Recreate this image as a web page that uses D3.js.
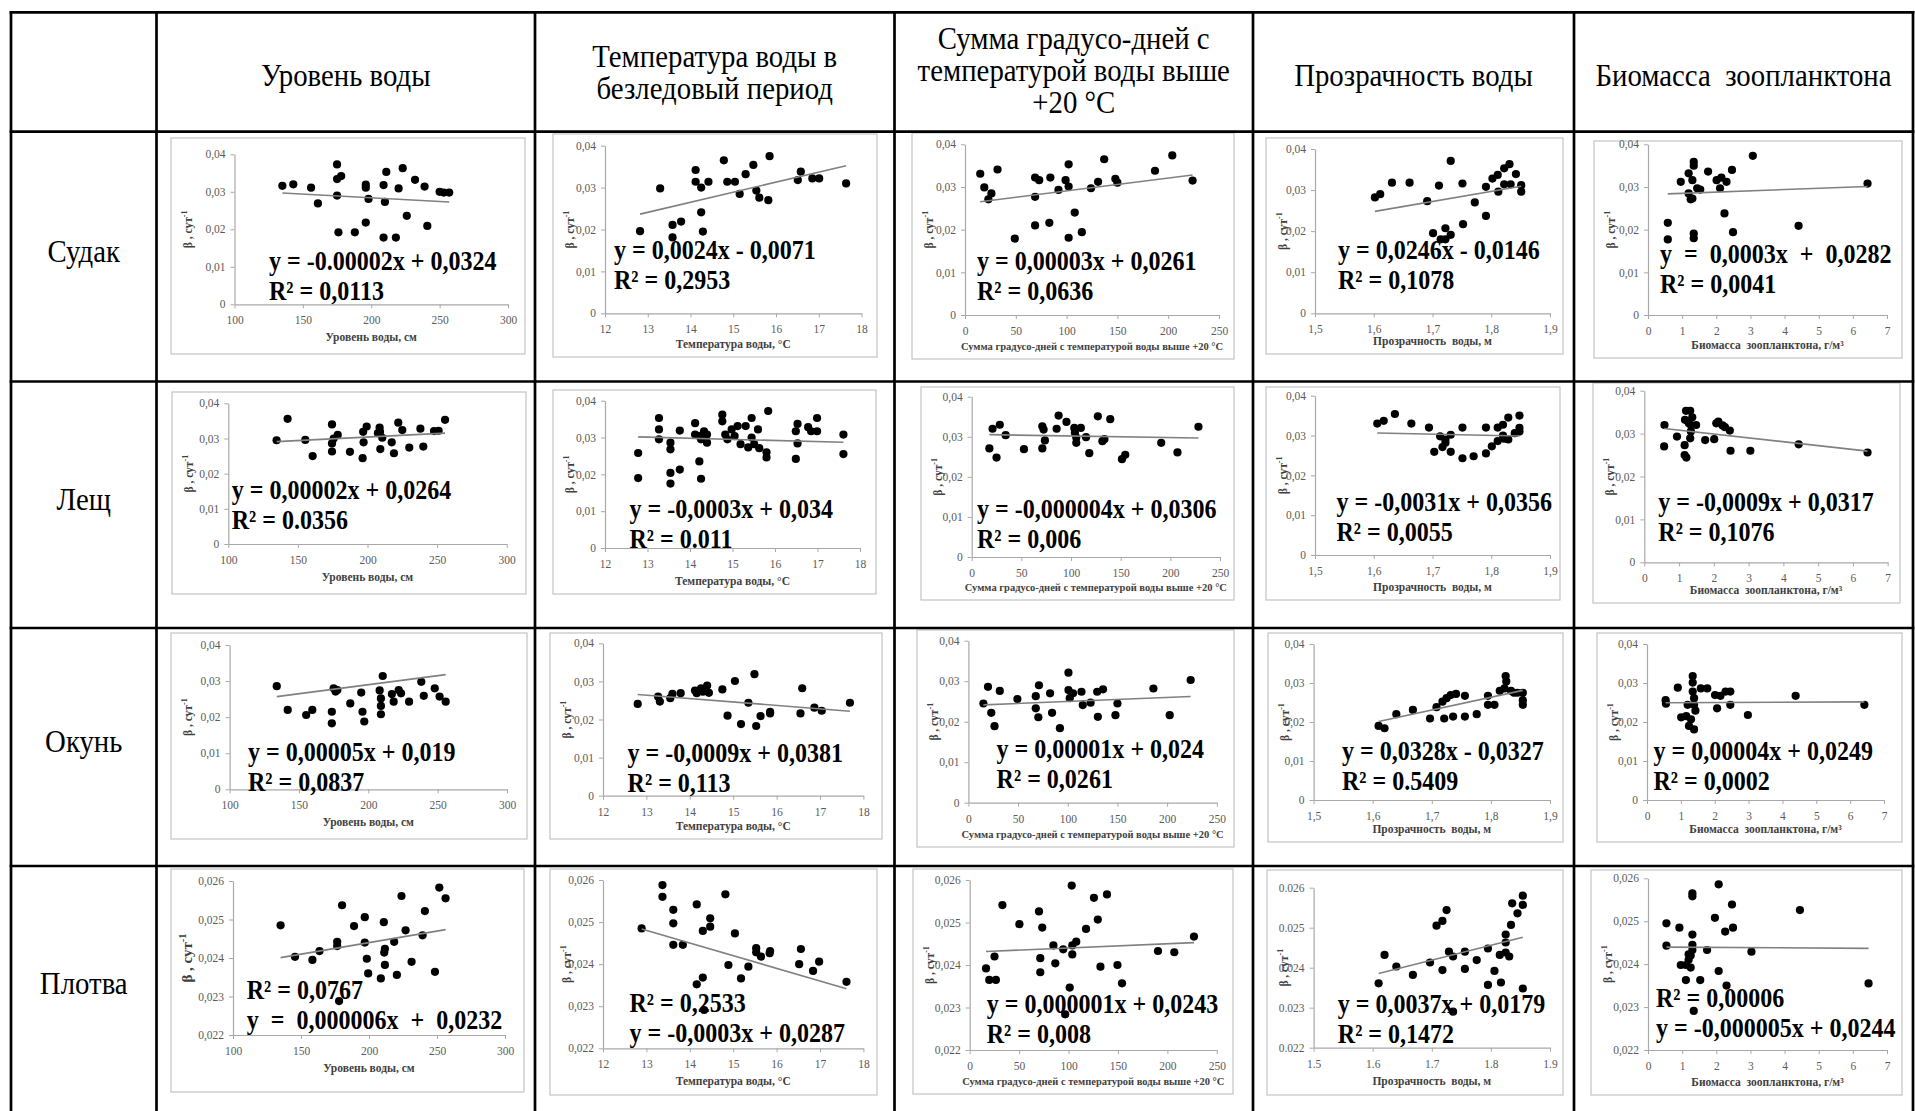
<!DOCTYPE html>
<html>
<head>
<meta charset="utf-8">
<script src="https://cdn.jsdelivr.net/npm/d3@7"></script>
<style>
  html, body { margin: 0; padding: 0; background: #fff; }
  svg { display: block; }
</style>
</head>
<body>
<svg id="chart" width="1915" height="1111"></svg>
<script>
// ---- Table categories ----
const species = ["Судак", "Лещ", "Окунь", "Плотва"];
const factorHeaders = [
  ["Уровень воды"],
  ["Температура воды в", "безледовый период"],
  ["Сумма градусо-дней с", "температурой воды выше", "+20 °C"],
  ["Прозрачность воды"],
  ["Биомасса  зоопланктона"]
];
const xAxisTitles = [
  "Уровень воды, см",
  "Температура воды, °C",
  "Сумма градусо-дней с температурой воды выше +20 °C",
  "Прозрачность  воды, м",
  "Биомасса  зоопланктона, г/м³"
];
const yAxisTitle = "β , сут";
const yAxisTitleSup = "-1";

// ---- Axis ticks ----
const xTickValues = [
  [100, 150, 200, 250, 300],
  [12, 13, 14, 15, 16, 17, 18],
  [0, 50, 100, 150, 200, 250],
  [1.5, 1.6, 1.7, 1.8, 1.9],
  [0, 1, 2, 3, 4, 5, 6, 7]
];
const yTicksMain = [0, 0.01, 0.02, 0.03, 0.04];
const yTicksRoach = [0.022, 0.023, 0.024, 0.025, 0.026];

// ---- Regression labels (display order) ----
const sudakLabels = [
  ["y = -0.00002x + 0,0324", "R² = 0,0113"],
  ["y = 0,0024x - 0,0071", "R² = 0,2953"],
  ["y = 0,00003x + 0,0261", "R² = 0,0636"],
  ["y = 0,0246x - 0,0146", "R² = 0,1078"],
  ["y  =  0,0003x  +  0,0282", "R² = 0,0041"]
];
const breamLabels = [
  ["y = 0,00002x + 0,0264", "R² = 0.0356"],
  ["y = -0,0003x + 0,034", "R² = 0.011"],
  ["y = -0,000004x + 0,0306", "R² = 0,006"],
  ["y = -0,0031x + 0,0356", "R² = 0,0055"],
  ["y = -0,0009x + 0,0317", "R² = 0,1076"]
];
const perchLabels = [
  ["y = 0,00005x + 0,019", "R² = 0,0837"],
  ["y = -0,0009x + 0,0381", "R² = 0,113"],
  ["y = 0,00001x + 0,024", "R² = 0,0261"],
  ["y = 0,0328x - 0,0327", "R² = 0.5409"],
  ["y = 0,00004x + 0,0249", "R² = 0,0002"]
];
const roachLabels = [
  ["R² = 0,0767", "y  =  0,000006x  +  0,0232"],
  ["R² = 0,2533", "y = -0,0003x + 0,0287"],
  ["y = 0,000001x + 0,0243", "R² = 0,008"],
  ["y = 0,0037x + 0,0179", "R² = 0,1472"],
  ["R² = 0,00006", "y = -0,000005x + 0,0244"]
];

// ---- Observations: [factor value, β] ----
const sudakLevel = [[135,0.0316],[143,0.0320],[156,0.0311],[161,0.0269],[175,0.0373],[175,0.0334],[178,0.0342],[175,0.0290],[176,0.0192],[188,0.0192],[196,0.0218],[196,0.0311],[196,0.0319],[198,0.0281],[209,0.0318],[211,0.0353],[210,0.0273],[209,0.0178],[218,0.0178],[220,0.0309],[223,0.0363],[226,0.0236],[232,0.0332],[239,0.0314],[241,0.0209],[250,0.0300],[253,0.0298],[257,0.0298]];
const sudakTemp = [[12.82,0.0196],[13.29,0.0298],[13.58,0.0211],[13.58,0.0181],[13.78,0.0219],[14.12,0.0342],[14.12,0.0314],[14.25,0.0300],[14.25,0.0241],[14.29,0.0195],[14.42,0.0314],[14.78,0.0365],[14.86,0.0314],[15.04,0.0314],[15.15,0.0285],[15.29,0.0332],[15.47,0.0354],[15.54,0.0293],[15.61,0.0276],[15.82,0.0270],[15.85,0.0375],[16.51,0.0318],[16.58,0.0338],[16.85,0.0322],[17.01,0.0322],[17.64,0.0310]];
const sudakDegreeDays = [[15,0.0331],[19,0.0299],[23,0.0271],[26,0.0285],[32,0.0341],[49,0.0179],[69,0.0322],[69,0.0277],[69,0.0210],[73,0.0316],[84,0.0322],[83,0.0216],[92,0.0293],[99,0.0316],[102,0.0353],[102,0.0301],[102,0.0181],[108,0.0240],[115,0.0194],[124,0.0297],[131,0.0312],[137,0.0365],[148,0.0319],[150,0.0310],[187,0.0338],[204,0.0374],[224,0.0315]];
const sudakClarity = [[1.602,0.0282],[1.611,0.0290],[1.631,0.0318],[1.661,0.0318],[1.691,0.0273],[1.701,0.0195],[1.711,0.0311],[1.714,0.0180],[1.722,0.0180],[1.722,0.0207],[1.731,0.0191],[1.731,0.0371],[1.751,0.0316],[1.752,0.0217],[1.772,0.0270],[1.791,0.0237],[1.791,0.0308],[1.802,0.0328],[1.811,0.0337],[1.812,0.0296],[1.822,0.0353],[1.822,0.0314],[1.831,0.0363],[1.833,0.0314],[1.842,0.0339],[1.851,0.0312],[1.851,0.0296]];
const sudakBiomass = [[0.58,0.0216],[0.58,0.0177],[0.96,0.0312],[1.19,0.0285],[1.19,0.0332],[1.25,0.0271],[1.30,0.0316],[1.34,0.0359],[1.34,0.0350],[1.34,0.0191],[1.34,0.0180],[1.30,0.0273],[1.44,0.0297],[1.53,0.0294],[1.76,0.0336],[2.01,0.0316],[2.11,0.0297],[2.15,0.0322],[2.30,0.0312],[2.24,0.0238],[2.49,0.0194],[2.46,0.0340],[3.07,0.0373],[4.41,0.0209],[6.43,0.0308]];

const breamLevel = [[134.7,0.0295],[142.6,0.0356],[155.3,0.0296],[160.6,0.0250],[174.5,0.0340],[174.5,0.0286],[174.5,0.0263],[175.7,0.0300],[178.6,0.0310],[187.4,0.0262],[196.9,0.0319],[199.4,0.0334],[197.2,0.0289],[196.5,0.0244],[208.7,0.0331],[209,0.0319],[207.5,0.0315],[209.2,0.0270],[210.6,0.0302],[217.4,0.0289],[219,0.0258],[222.1,0.0345],[225,0.0324],[230,0.0274],[238,0.0328],[240.1,0.0277],[247.8,0.0321],[251.1,0.0322],[255.7,0.0353]];
const breamTemp = [[12.78,0.0258],[12.78,0.0190],[13.27,0.0353],[13.27,0.0322],[13.27,0.0295],[13.54,0.0286],[13.54,0.0268],[13.54,0.0204],[13.54,0.0175],[13.76,0.0319],[13.76,0.0213],[14.12,0.0339],[14.12,0.0308],[14.22,0.0304],[14.22,0.0235],[14.26,0.0188],[14.33,0.0317],[14.26,0.0295],[14.40,0.0308],[14.40,0.0286],[14.76,0.0362],[14.76,0.0344],[14.83,0.0308],[14.88,0.0295],[14.98,0.0322],[15.05,0.0304],[15.12,0.0331],[15.19,0.0282],[15.31,0.0331],[15.37,0.0273],[15.45,0.0353],[15.45,0.0300],[15.51,0.0282],[15.60,0.0322],[15.63,0.0271],[15.80,0.0260],[15.80,0.0246],[15.84,0.0372],[16.49,0.0317],[16.49,0.0242],[16.53,0.0337],[16.53,0.0284],[16.78,0.0328],[16.85,0.0317],[16.99,0.0353],[16.99,0.0317],[17.61,0.0308],[17.61,0.0255]];
const breamDegreeDays = [[17.8,0.0271],[21,0.0320],[25,0.0248],[28.3,0.0330],[34.2,0.0304],[52.6,0.0269],[71.1,0.0326],[72.4,0.0318],[71.1,0.0271],[73.7,0.0291],[85.5,0.0320],[87.5,0.0353],[95.4,0.0337],[103.3,0.0322],[103.9,0.0310],[105.3,0.0298],[105.3,0.0285],[109.9,0.0322],[115.1,0.0299],[118.4,0.0259],[127,0.0351],[131.6,0.0289],[133.6,0.0294],[139.5,0.0344],[151.3,0.0244],[154.6,0.0255],[190.8,0.0285],[207.2,0.0261],[228.3,0.0325]];
const breamClarity = [[1.606,0.0330],[1.617,0.0337],[1.636,0.0354],[1.664,0.0330],[1.694,0.0320],[1.703,0.0259],[1.713,0.0298],[1.717,0.0271],[1.722,0.0282],[1.722,0.0290],[1.731,0.0302],[1.731,0.0259],[1.751,0.0320],[1.751,0.0243],[1.770,0.0248],[1.791,0.0320],[1.791,0.0255],[1.801,0.0273],[1.811,0.0320],[1.811,0.0286],[1.820,0.0327],[1.820,0.0300],[1.822,0.0292],[1.829,0.0290],[1.829,0.0345],[1.840,0.0306],[1.848,0.0319],[1.848,0.0350],[1.848,0.0310]];
const breamBiomass = [[0.58,0.0320],[0.57,0.0270],[0.94,0.0293],[1.16,0.0273],[1.16,0.0250],[1.21,0.0244],[1.17,0.0332],[1.20,0.0353],[1.32,0.0353],[1.28,0.0324],[1.34,0.0305],[1.32,0.0289],[1.34,0.0320],[1.38,0.0338],[1.49,0.0320],[1.75,0.0285],[2.01,0.0287],[2.07,0.0324],[2.13,0.0328],[2.25,0.0319],[2.32,0.0315],[2.46,0.0307],[2.48,0.0260],[3.05,0.0260],[4.44,0.0275],[6.42,0.0256]];

const perchLevel = [[134,0.0286],[141.9,0.0220],[155.2,0.0206],[159.6,0.0220],[173.7,0.0215],[173.7,0.0183],[175,0.0280],[176.4,0.0271],[177.7,0.0275],[187,0.0238],[194.9,0.0268],[195.8,0.0215],[197.1,0.0188],[208.2,0.0274],[209.1,0.0252],[209.1,0.0231],[209.1,0.0208],[210.4,0.0314],[217,0.0264],[218.3,0.0243],[221.9,0.0275],[223.6,0.0266],[229.4,0.0243],[238.2,0.0298],[240,0.0259],[247.9,0.0280],[251.4,0.0257],[255.8,0.0243]];
const perchTemp = [[12.80,0.0241],[13.27,0.0260],[13.31,0.0247],[13.55,0.0256],[13.60,0.0267],[13.79,0.0269],[14.12,0.0276],[14.16,0.0269],[14.26,0.0282],[14.30,0.0273],[14.40,0.0289],[14.44,0.0270],[14.75,0.0279],[14.87,0.0210],[15.04,0.0301],[15.18,0.0188],[15.35,0.0244],[15.49,0.0319],[15.53,0.0183],[15.63,0.0209],[15.85,0.0216],[15.85,0.0220],[16.55,0.0216],[16.59,0.0282],[16.87,0.0231],[17.04,0.0223],[17.69,0.0244]];
const perchDegreeDays = [[15.1,0.0245],[19.7,0.0286],[23,0.0222],[26.3,0.0189],[31.6,0.0276],[49.3,0.0256],[67.8,0.0263],[67.8,0.0233],[70.4,0.0211],[71,0.0290],[82.2,0.0270],[84.2,0.0222],[92.1,0.0184],[100.7,0.0278],[100.7,0.0321],[102,0.0258],[105.3,0.0270],[113.8,0.0274],[115.1,0.0241],[123,0.0247],[129.6,0.0274],[130.3,0.0212],[135.5,0.0280],[148,0.0216],[150,0.0245],[186.2,0.0282],[202.6,0.0216],[223.7,0.0303]];
const perchClarity = [[1.610,0.0190],[1.620,0.0184],[1.640,0.0220],[1.668,0.0231],[1.697,0.0209],[1.708,0.0238],[1.718,0.0252],[1.721,0.0209],[1.725,0.0261],[1.732,0.0269],[1.736,0.0214],[1.741,0.0272],[1.756,0.0267],[1.756,0.0214],[1.776,0.0220],[1.795,0.0267],[1.795,0.0244],[1.806,0.0244],[1.815,0.0280],[1.823,0.0286],[1.825,0.0318],[1.826,0.0304],[1.834,0.0280],[1.839,0.0275],[1.845,0.0275],[1.854,0.0275],[1.854,0.0256],[1.854,0.0244]];
const perchBiomass = [[0.55,0.0256],[0.56,0.0247],[0.91,0.0288],[1.01,0.0212],[1.16,0.0215],[1.20,0.0244],[1.24,0.0190],[1.30,0.0207],[1.35,0.0301],[1.35,0.0318],[1.35,0.0278],[1.39,0.0261],[1.39,0.0244],[1.39,0.0181],[1.43,0.0229],[1.59,0.0286],[1.78,0.0286],[2.01,0.0269],[2.07,0.0235],[2.17,0.0267],[2.32,0.0278],[2.46,0.0278],[2.46,0.0244],[2.98,0.0218],[4.39,0.0267],[6.42,0.0244]];

const roachLevel = [[135,0.02485],[145.6,0.02403],[158.4,0.02395],[163.6,0.02418],[176.6,0.02442],[176.6,0.02431],[180.2,0.02537],[178,0.02288],[189,0.02483],[196.9,0.02506],[196.9,0.02440],[198.4,0.02398],[199.4,0.02360],[208.7,0.02347],[210.9,0.02493],[211.7,0.02424],[211.2,0.02414],[211.7,0.02382],[218.5,0.02442],[220.5,0.02356],[223.9,0.02561],[226.9,0.02472],[231.3,0.02390],[239.4,0.02459],[241.1,0.02522],[248.5,0.02364],[251.7,0.02583],[256.3,0.02555]];
const roachTemp = [[12.89,0.02485],[13.37,0.02588],[13.37,0.02560],[13.62,0.02529],[13.62,0.02497],[13.62,0.02446],[13.84,0.02446],[14.16,0.02542],[14.16,0.02352],[14.30,0.02479],[14.30,0.02368],[14.33,0.02291],[14.47,0.02489],[14.47,0.02509],[14.82,0.02566],[15.04,0.02473],[14.89,0.02398],[15.18,0.02366],[15.35,0.02394],[15.53,0.02428],[15.53,0.02438],[15.64,0.02418],[15.84,0.02426],[15.85,0.02431],[16.52,0.02400],[16.56,0.02436],[16.84,0.02384],[16.98,0.02406],[17.61,0.02358]];
const roachDegreeDays = [[16.5,0.02392],[19.8,0.02365],[25.1,0.02420],[26.5,0.02365],[33.1,0.02541],[50.3,0.02496],[70.1,0.02526],[71.4,0.02416],[71.4,0.02383],[73.4,0.02488],[84.7,0.02446],[86.6,0.02404],[94.6,0.02437],[96.6,0.02284],[103.2,0.02587],[103.8,0.02446],[103.8,0.02425],[101.2,0.02347],[107.8,0.02455],[117.7,0.02485],[125.7,0.02558],[129.6,0.02507],[132.3,0.02396],[138.9,0.02566],[149.5,0.02400],[154.1,0.02357],[190.5,0.02433],[207,0.02430],[226.9,0.02467]];
const roachClarity = [[1.610,0.02361],[1.620,0.02432],[1.640,0.02403],[1.668,0.02382],[1.697,0.02413],[1.708,0.02505],[1.718,0.02517],[1.718,0.02394],[1.725,0.02544],[1.729,0.02440],[1.736,0.02428],[1.736,0.02290],[1.756,0.02440],[1.756,0.02397],[1.776,0.02419],[1.795,0.02448],[1.795,0.02357],[1.806,0.02392],[1.815,0.02432],[1.817,0.02363],[1.825,0.02438],[1.825,0.02463],[1.825,0.02483],[1.831,0.02428],[1.834,0.02507],[1.836,0.02561],[1.845,0.02536],[1.854,0.02557],[1.854,0.02580],[1.854,0.02348]];
const roachBiomass = [[0.54,0.02495],[0.54,0.02443],[0.92,0.02485],[0.96,0.02398],[1.11,0.02398],[1.11,0.02363],[1.19,0.02423],[1.19,0.02410],[1.25,0.02392],[1.25,0.02420],[1.30,0.02565],[1.30,0.02558],[1.30,0.02469],[1.30,0.02445],[1.30,0.02433],[1.34,0.02291],[1.53,0.02363],[1.73,0.02433],[1.96,0.02508],[2.07,0.02384],[2.07,0.02586],[2.26,0.02476],[2.30,0.02350],[2.46,0.02539],[2.49,0.02485],[3.03,0.02429],[4.45,0.02526],[6.46,0.02355]];

// Rows of the table: one species per row, one factor per column
const panelData = [
  [sudakLevel, sudakTemp, sudakDegreeDays, sudakClarity, sudakBiomass],
  [breamLevel, breamTemp, breamDegreeDays, breamClarity, breamBiomass],
  [perchLevel, perchTemp, perchDegreeDays, perchClarity, perchBiomass],
  [roachLevel, roachTemp, roachDegreeDays, roachClarity, roachBiomass]
];
const panelLabels = [sudakLabels, breamLabels, perchLabels, roachLabels];

// ---- Page layout ----
const W = 1915, H = 1111;
const colEdges = [11, 156.5, 535, 894.5, 1253, 1574, 1913];
const rowEdges = [12.3, 131.7, 381.5, 628, 866, 1111];
const gridStroke = 2.7;
const serif = "'Liberation Serif', 'Times New Roman', Times, serif";
const squeeze = 0.9;      // table text is slightly narrow
const eqSqueeze = 0.89;
const eqSize = 27;
const eqGap = 30;

// frame box, plot box, equation anchor [x, baseline1] per cell
const panelLayout = [
  [
    { frame: [171, 138, 525, 354], plot: [234.5, 154.3, 508, 304.3], eq: [269, 270] },
    { frame: [553, 134, 877, 357], plot: [605, 145.7, 861.5, 313.3], eq: [614, 259] },
    { frame: [912, 133, 1234, 359], plot: [965, 144.3, 1219, 315], eq: [977, 270] },
    { frame: [1266, 138, 1563, 354], plot: [1315, 149, 1550, 313.3], eq: [1338, 259] },
    { frame: [1594, 141, 1902, 358], plot: [1648, 144.3, 1887, 315], eq: [1660, 263] }
  ],
  [
    { frame: [172, 392, 526, 594], plot: [228.3, 403.3, 506.7, 544], eq: [231.7, 499] },
    { frame: [553, 390, 876, 594], plot: [605, 400.7, 860, 548], eq: [629.5, 518] },
    { frame: [921, 387, 1234, 600], plot: [971.7, 396.7, 1220, 557], eq: [977, 518] },
    { frame: [1266, 387, 1560, 600], plot: [1315, 395.7, 1550, 555], eq: [1336.5, 511] },
    { frame: [1593, 383, 1900, 603], plot: [1644.3, 390.7, 1887.7, 562.3], eq: [1658.3, 511] }
  ],
  [
    { frame: [171, 633, 527, 839], plot: [229.6, 645, 507, 789.3], eq: [248, 761] },
    { frame: [550, 633, 882, 839], plot: [603, 643.3, 863.4, 795.7], eq: [627.6, 762] },
    { frame: [917, 630, 1234, 847], plot: [968.4, 640.7, 1216.8, 802.7], eq: [996.6, 758] },
    { frame: [1268, 633, 1563, 842], plot: [1313.6, 644, 1550, 800], eq: [1342, 760] },
    { frame: [1597, 633, 1902, 842], plot: [1647, 644, 1884, 800], eq: [1653.5, 760] }
  ],
  [
    { frame: [171, 869, 524, 1092], plot: [233, 881, 505, 1035], eq: [246.7, 999] },
    { frame: [550, 869, 877, 1095], plot: [603, 880, 863.4, 1048.3], eq: [629.5, 1012] },
    { frame: [913, 869, 1233, 1094], plot: [969.7, 880, 1216.8, 1050], eq: [986.7, 1013] },
    { frame: [1267, 870, 1563, 1095], plot: [1313.6, 887.7, 1550, 1047.7], eq: [1337.8, 1013] },
    { frame: [1591, 870, 1902, 1095], plot: [1648, 878.3, 1887, 1050], eq: [1656, 1007] }
  ]
];

const svg = d3.select("#chart").attr("viewBox", `0 0 ${W} ${H}`);
svg.append("rect").attr("width", W).attr("height", H).attr("fill", "#fff");

const commaLocale = d3.formatLocale({ decimal: ",", thousands: "", grouping: [3], currency: ["", ""] });
const dotLocale = d3.formatLocale({ decimal: ".", thousands: "", grouping: [3], currency: ["", ""] });

function squeezedText(parent, x, y, str, sx) {
  return parent.append("text")
    .attr("transform", `translate(${x},${y}) scale(${sx},1)`)
    .style("white-space", "pre")
    .text(str);
}

// Parse "y = a x ± b" into slope and intercept
function parseFit(lines) {
  const eq = lines.find(s => s.trim().startsWith("y"));
  const clean = eq.replace(/\s/g, "").replace(/,/g, ".");
  const m = clean.match(/^y=([+-]?[\d.]+)x([+-])([\d.]+)$/);
  const slope = +m[1];
  const intercept = (m[2] === "-" ? -1 : 1) * (+m[3]);
  return { slope, intercept };
}

// ---- Table header and row labels ----
const headerBaselines = { 1: [86], 2: [67, 99], 3: [49, 81, 113] };
factorHeaders.forEach((lines, c) => {
  const cx = (colEdges[c + 1] + colEdges[c + 2]) / 2;
  headerBaselines[lines.length].forEach((by, i) => {
    squeezedText(svg, cx, by, lines[i], squeeze)
      .attr("text-anchor", "middle")
      .attr("font-family", serif)
      .attr("font-size", 32)
      .attr("fill", "#000");
  });
});

species.forEach((name, r) => {
  const cx = (colEdges[0] + colEdges[1]) / 2;
  const cy = (rowEdges[r + 1] + rowEdges[r + 2]) / 2 + 5;
  squeezedText(svg, cx, cy, name, squeeze)
    .attr("text-anchor", "middle")
    .attr("font-family", serif)
    .attr("font-size", 32)
    .attr("fill", "#000");
});

// ---- Scatter panels ----
function drawPanel(r, c) {
  const L = panelLayout[r][c];
  const [fx0, fy0, fx1, fy1] = L.frame;
  const [px0, py0, px1, py1] = L.plot;
  const data = panelData[r][c];
  const labels = panelLabels[r][c];
  const g = svg.append("g").attr("class", `panel r${r} c${c}`);

  g.append("rect")
    .attr("x", fx0).attr("y", fy0)
    .attr("width", fx1 - fx0).attr("height", fy1 - fy0)
    .attr("fill", "#fff").attr("stroke", "#c4c4c4").attr("stroke-width", 1.2);

  const yTicks = r === 3 ? yTicksRoach : yTicksMain;
  const x = d3.scaleLinear().domain(d3.extent(xTickValues[c])).range([px0, px1]);
  const y = d3.scaleLinear().domain(d3.extent(yTicks)).range([py1, py0]);

  const locale = (r === 3 && c === 3) ? dotLocale : commaLocale;
  const fmt = locale.format("~g");

  const xAxis = d3.axisBottom(x).tickValues(xTickValues[c]).tickFormat(fmt)
    .tickSize(4).tickSizeOuter(0).tickPadding(8);
  const yAxis = d3.axisLeft(y).tickValues(yTicks).tickFormat(fmt)
    .tickSize(4).tickSizeOuter(0).tickPadding(5);

  const gx = g.append("g").attr("transform", `translate(0,${py1})`).call(xAxis);
  const gy = g.append("g").attr("transform", `translate(${px0},0)`).call(yAxis);
  [gx, gy].forEach(ax => {
    ax.select(".domain").attr("stroke", "#a8a8a8").attr("stroke-width", 1.2);
    ax.selectAll(".tick line").attr("stroke", "#a8a8a8");
    ax.selectAll(".tick text")
      .attr("fill", "#5a5a5a")
      .attr("font-family", serif)
      .attr("font-size", 11.5);
  });

  // axis titles
  g.append("text")
    .attr("x", (px0 + px1) / 2)
    .attr("y", Math.min(py1 + 37, fy1 - 9))
    .attr("text-anchor", "middle")
    .attr("font-family", serif)
    .attr("font-weight", "bold")
    .attr("font-size", c === 2 ? 10.5 : 11.5)
    .attr("fill", "#404040")
    .style("white-space", "pre")
    .text(xAxisTitles[c]);

  const ytSize = (r === 3 && c === 0) ? 15 : 11.5;
  const yt = g.append("text")
    .attr("transform", `translate(${fx0 + 21},${(py0 + py1) / 2}) rotate(-90)`)
    .attr("text-anchor", "middle")
    .attr("font-family", serif)
    .attr("font-weight", "bold")
    .attr("font-size", ytSize)
    .attr("fill", "#404040");
  yt.append("tspan").text(yAxisTitle);
  yt.append("tspan").attr("dy", -ytSize * 0.4).attr("font-size", ytSize * 0.7).text(yAxisTitleSup);

  // observations
  g.append("g").selectAll("circle")
    .data(data)
    .join("circle")
    .attr("cx", d => x(d[0]))
    .attr("cy", d => y(d[1]))
    .attr("r", 4.1)
    .attr("fill", "#000");

  // linear trend over the observed range
  const fit = parseFit(labels);
  const [xmin, xmax] = d3.extent(data, d => d[0]);
  g.append("line")
    .attr("x1", x(xmin)).attr("y1", y(fit.slope * xmin + fit.intercept))
    .attr("x2", x(xmax)).attr("y2", y(fit.slope * xmax + fit.intercept))
    .attr("stroke", "#808080").attr("stroke-width", 1.6);

  // regression equation and R²
  const [ex, ey] = L.eq;
  labels.forEach((line, i) => {
    squeezedText(g, ex, ey + i * eqGap, line, eqSqueeze)
      .attr("font-family", serif)
      .attr("font-weight", "bold")
      .attr("font-size", eqSize)
      .attr("fill", "#000");
  });
}

for (let r = 0; r < species.length; r++) {
  for (let c = 0; c < factorHeaders.length; c++) drawPanel(r, c);
}

// ---- Table grid ----
const grid = svg.append("g").attr("stroke", "#000").attr("stroke-width", gridStroke);
rowEdges.slice(0, 5).forEach(yy => {
  grid.append("line").attr("x1", colEdges[0] - gridStroke / 2).attr("x2", colEdges[6] + gridStroke / 2)
    .attr("y1", yy).attr("y2", yy);
});
colEdges.forEach(xx => {
  grid.append("line").attr("x1", xx).attr("x2", xx)
    .attr("y1", rowEdges[0] - gridStroke / 2).attr("y2", H + 2);
});
</script>
</body>
</html>
